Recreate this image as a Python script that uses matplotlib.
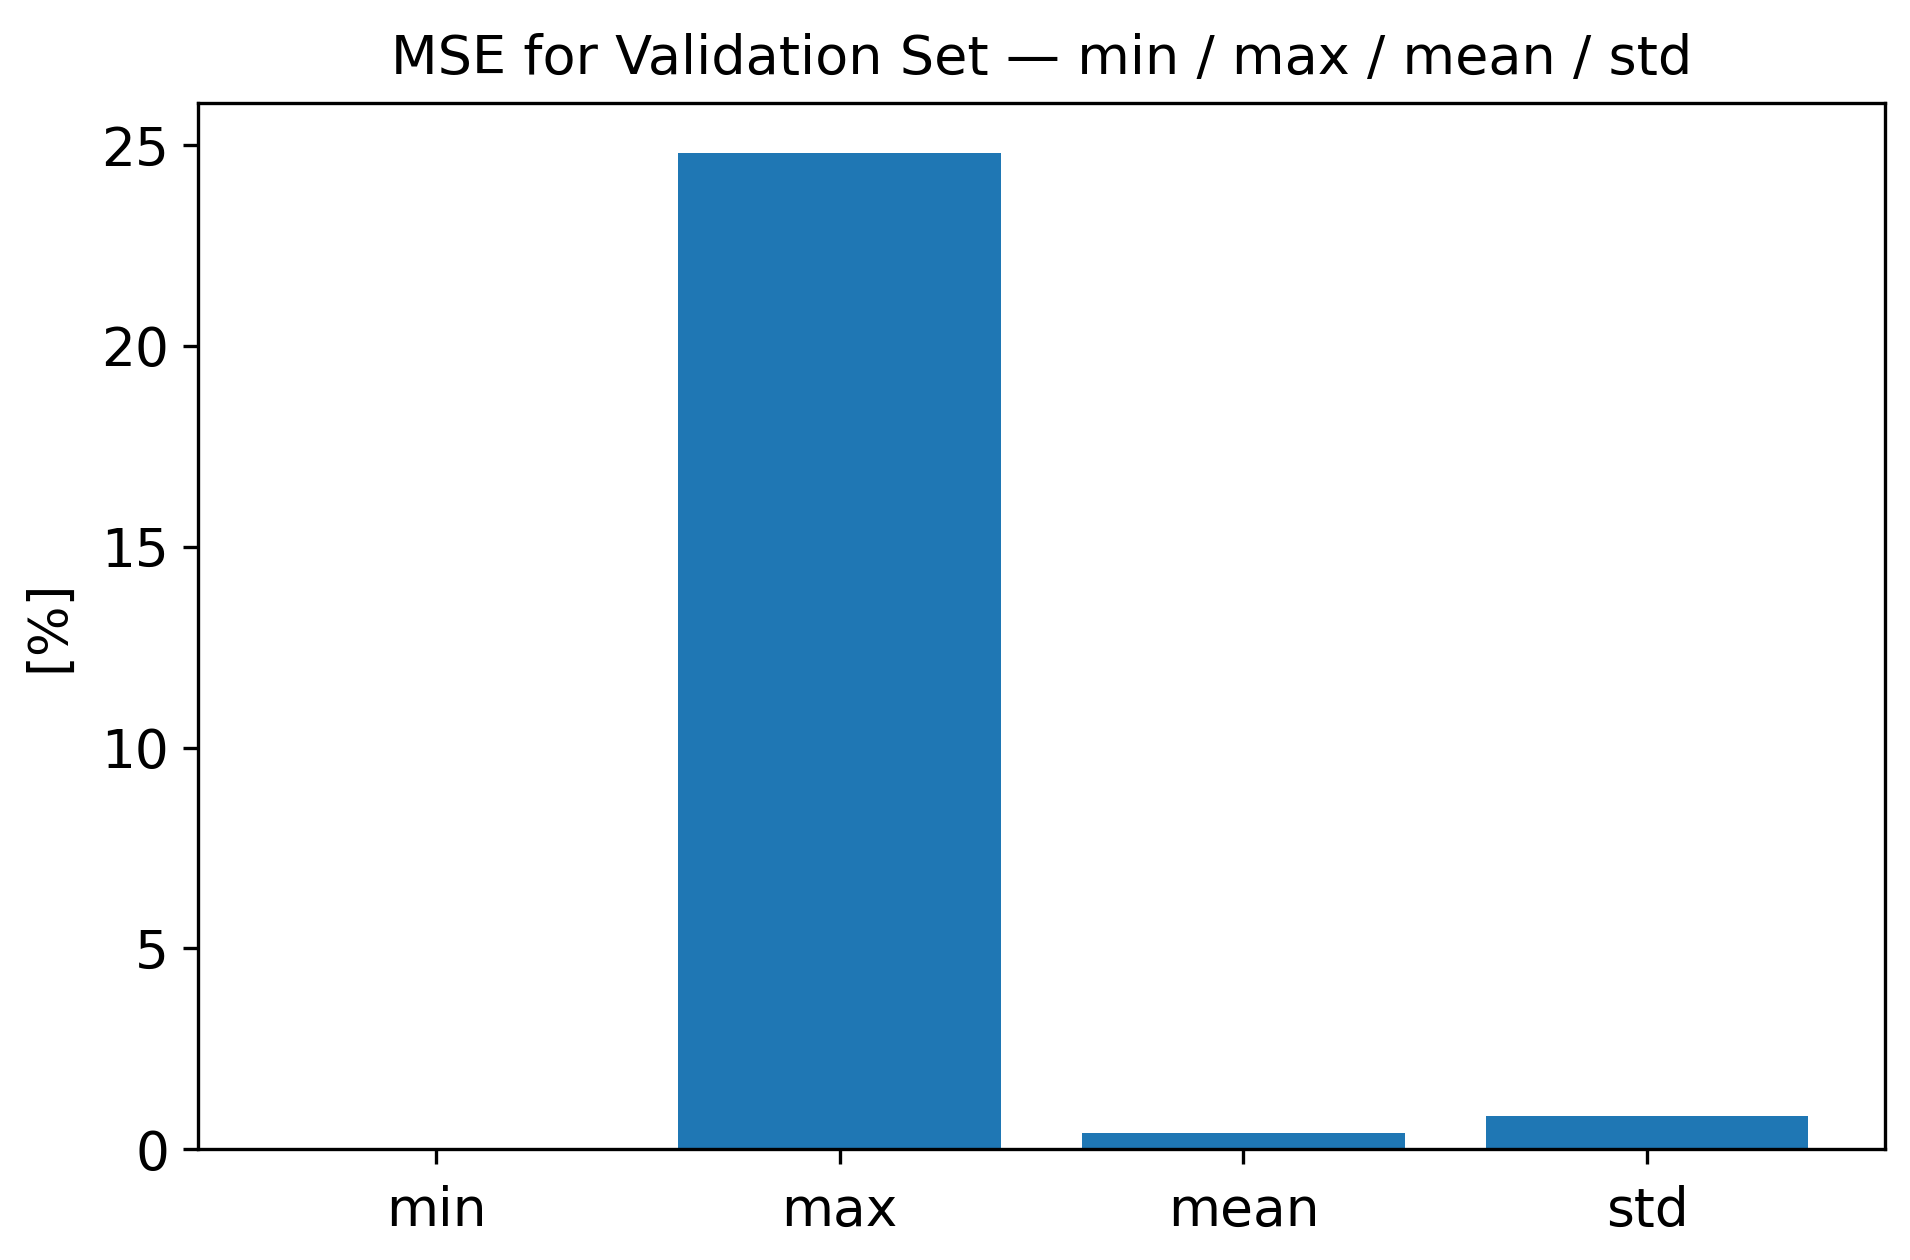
import matplotlib
matplotlib.use("Agg")
import matplotlib.pyplot as plt

stats = ["min", "max", "mean", "std"]
mse_pct = [0.0, 24.8, 0.41, 0.82]

s = 3.0  # scale from a 6.4x4.2 figure at 100 dpi
plt.rcParams.update({
    "font.size": 12.8 * s,
    "axes.linewidth": 0.8 * s,
    "xtick.major.width": 0.8 * s,
    "ytick.major.width": 0.8 * s,
    "xtick.major.size": 3.5 * s,
    "ytick.major.size": 3.5 * s,
    "xtick.major.pad": 5 * s,
    "ytick.major.pad": 3.5 * s,
})

fig = plt.figure(figsize=(19.1, 12.6), dpi=100)
ax = fig.add_axes([0.1037, 0.088, 0.8833, 0.830])
ax.bar(stats, mse_pct, color="#1f77b4")
ax.set_ylabel("[%]", labelpad=6.5 * s)
ax.set_title("MSE for Validation Set — min / max / mean / std", fontsize=13 * s, pad=7 * s)

fig.savefig("out.png", dpi=100)
